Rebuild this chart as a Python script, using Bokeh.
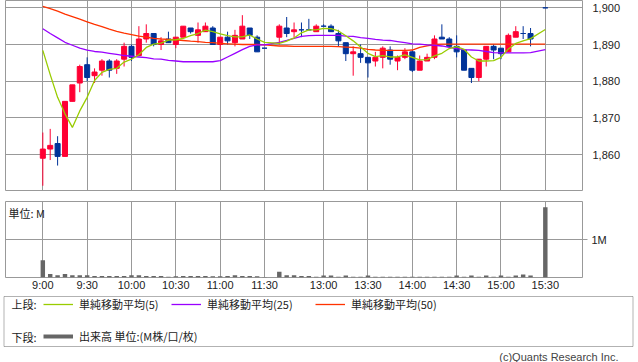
from bokeh.plotting import figure
from bokeh.layouts import column
from bokeh.models import (ColumnDataSource, Range1d, FixedTicker, NumeralTickFormatter,
                          Label, Legend, LegendItem, BoxAnnotation)
from bokeh.core.properties import value
from bokeh.embed import file_html
from bokeh.resources import INLINE

# ---- data (5-minute bars; slot 31 = lunch break, slot 67 = no trade) ----
slots = list(range(0, 31)) + list(range(32, 67)) + [68]

opens = [1859, 1861.5, 1863, 1859.5, 1874.5, 1879.5, 1884.5, 1881.5, 1883, 1885.5,
         1883.5, 1886, 1889.5, 1887, 1891.5, 1893, 1890, 1891.5, 1890, 1892,
         1894.5, 1892.5, 1893.5, 1894.5, 1890, 1892, 1890.5, 1891.5, 1894.5, 1892,
         1889,
         1892, 1894.5, 1893.5, 1894, 1894, 1893.5, 1895, 1895, 1893, 1890.5,
         1887.5, 1887.5, 1886.5, 1885.5, 1886.5, 1888.5, 1885.5, 1886.5, 1888, 1883,
         1885.5, 1886.5, 1892, 1891.5, 1889.5, 1888.5, 1883.5, 1881, 1886, 1889.5,
         1889, 1888, 1892, 1893, 1893,
         1900]
highs = [1866, 1867, 1865, 1874.5, 1879, 1884.5, 1886.5, 1883.5, 1886, 1886,
         1886, 1890.5, 1890, 1895, 1895.5, 1893, 1892, 1893.5, 1892, 1895,
         1894.5, 1896, 1896, 1895, 1892, 1893.5, 1894, 1898, 1894.5, 1892.5,
         1889,
         1895.5, 1897.5, 1896, 1896, 1897, 1895.5, 1895.5, 1895.5, 1894, 1890.5,
         1889.5, 1890, 1886.5, 1888, 1889.5, 1889.5, 1887, 1889, 1888.5, 1887,
         1887.5, 1892.5, 1895.5, 1892, 1892.5, 1888.5, 1883.5, 1886, 1889.5, 1890,
         1889, 1893, 1895, 1895, 1894.5,
         1900]
lows = [1851.5, 1858.5, 1857, 1859.5, 1874.5, 1877, 1880, 1879.5, 1881.5, 1881,
        1882, 1884, 1885.5, 1887, 1890.5, 1889.5, 1888.5, 1890.5, 1889, 1892,
        1893, 1890.5, 1893.5, 1890, 1888.5, 1890, 1889.5, 1891.5, 1891.5, 1888,
        1889,
        1890, 1892, 1892, 1892, 1894, 1893.5, 1895, 1893.5, 1889.5, 1885.5,
        1881.5, 1885, 1881, 1884, 1883.5, 1884.5, 1883, 1886, 1882.5, 1883,
        1885.5, 1886, 1891.5, 1889.5, 1886.5, 1883, 1879.5, 1880, 1884, 1886,
        1886, 1888, 1892, 1891.5, 1889.5,
        1900]
closes = [1861.5, 1862.5, 1859.5, 1874.5, 1879, 1884, 1881, 1882.5, 1885.5, 1883,
          1885.5, 1889.5, 1886.5, 1891.5, 1893, 1890, 1891, 1890.5, 1892, 1895,
          1893.5, 1894, 1895, 1890, 1892, 1891, 1892.5, 1895, 1892.5, 1888,
          1889,
          1895, 1893, 1894, 1894, 1894, 1895, 1895, 1893.5, 1891, 1887.5,
          1888, 1886.5, 1885, 1886.5, 1889, 1886, 1886.5, 1888, 1883, 1885.5,
          1886.5, 1891.5, 1891.5, 1889.5, 1888, 1883, 1881, 1886, 1889.5, 1888.5,
          1887.5, 1892.5, 1893.5, 1893, 1891.5,
          1900]
sma5 = [1888.4, 1881.8, 1875.6, 1871.1, 1867.4, 1871.9, 1875.6, 1880.2, 1882.4, 1883.2,
        1883.5, 1885.2, 1886.0, 1887.2, 1889.2, 1890.1, 1890.4, 1891.2, 1891.3, 1891.7,
        1892.4, 1893.0, 1893.9, 1893.5, 1892.9, 1892.4, 1892.1, 1892.1, 1892.6, 1891.5,
        1890.6,
        1890.3, 1890.9, 1891.8, 1893.2, 1894.0, 1894.0, 1894.4, 1894.3, 1893.7, 1892.4,
        1891.0, 1889.3, 1887.6, 1886.7, 1887.0, 1886.6, 1886.6, 1887.2, 1886.5, 1885.8,
        1885.9, 1886.9, 1887.6, 1888.9, 1889.4, 1888.7, 1886.6, 1885.5, 1885.5, 1885.6,
        1886.5, 1888.8, 1890.3, 1891.0, 1891.6,
        1894.1]
sma25 = [1894.3, 1893.0, 1891.8, 1890.6, 1889.8, 1889.0, 1888.5, 1888.1, 1887.9, 1887.6,
         1887.3, 1887.0, 1886.8, 1886.6, 1886.4, 1886.1, 1886.0, 1885.7, 1885.5, 1885.3,
         1885.3, 1885.3, 1885.3, 1885.3, 1885.6, 1886.6, 1887.6, 1888.6, 1889.5, 1889.9,
         1889.9,
         1890.6, 1891.1, 1891.7, 1892.2, 1892.4, 1892.5, 1892.5, 1892.5, 1892.5, 1892.3,
         1892.2, 1891.9, 1891.7, 1891.4, 1891.2, 1891.1, 1890.8, 1890.5, 1890.2, 1890.1,
         1889.9, 1889.8, 1889.6, 1889.2, 1888.9, 1888.6, 1888.5, 1888.4, 1888.1, 1887.8,
         1887.7, 1887.7, 1887.7, 1887.7, 1887.8,
         1888.6]
sma50 = [1900.4, 1899.8, 1899.1, 1898.3, 1897.6, 1896.9, 1896.2, 1895.5, 1894.9, 1894.2,
         1893.6, 1893.1, 1892.7, 1892.3, 1892.0, 1891.7, 1891.5, 1891.4, 1891.3, 1891.1,
         1890.9, 1890.8, 1890.6, 1890.5, 1890.3, 1890.2, 1890.1, 1890.0, 1890.0, 1890.0,
         1889.9,
         1889.6, 1889.6, 1889.5, 1889.5, 1889.5, 1889.5, 1889.5, 1889.5, 1889.4, 1889.3,
         1889.2, 1889.0, 1888.7, 1888.5, 1888.4, 1888.4, 1888.4, 1888.4, 1888.5, 1889.2,
         1889.6, 1890.0, 1890.1, 1890.1, 1890.1, 1890.1, 1890.1, 1890.1, 1890.1, 1890.1,
         1890.1, 1890.1, 1890.1, 1890.1, 1890.1,
         1890.1]
volume_m = [0.46, 0.09, 0.06, 0.09, 0.06, 0.06, 0.06, 0.04, 0.04, 0.04,
            0.04, 0.04, 0.06, 0.06, 0.04, 0.04, 0.04, 0.02, 0.03, 0.04,
            0.04, 0.04, 0.04, 0.03, 0.03, 0.04, 0.06, 0.04, 0.04, 0.03,
            0.01,
            0.15, 0.06, 0.06, 0.04, 0.04, 0.02, 0.05, 0.05, 0.02, 0.05,
            0.02, 0.02, 0.05, 0.02, 0.02, 0.02, 0.02, 0.02, 0.02, 0.02,
            0.02, 0.02, 0.02, 0.02, 0.05, 0.02, 0.05, 0.02, 0.05, 0.02,
            0.05, 0.02, 0.05, 0.08, 0.05,
            1.87]

tick_slots = [0, 6, 12, 18, 24, 30, 38, 44, 50, 56, 62, 68]
tick_labels = ["9:00", "9:30", "10:00", "10:30", "11:00", "11:30",
               "13:00", "13:30", "14:00", "14:30", "15:00", "15:30"]
price_ticks = [1860, 1870, 1880, 1890, 1900]
legend_upper = ["単純移動平均(5)", "単純移動平均(25)", "単純移動平均(50)"]
legend_lower = "出来高 単位:(M株/口/枚)"

# ---- styles ----
RED = "#ff0033"
BLUE = "#003399"
GRID = "#999999"
TXT = "#222222"
C5, C25, C50 = "#99cc00", "#9900ff", "#ff3300"
VOLC = "#666666"
NUMFONT = "Liberation Sans"
JPFONT = "Noto Sans CJK JP"
W = 638
FL, FR = 5, 582          # frame left/right (page px)
BL, BR = FL, W - FR      # min borders

colors = [RED if c > o else BLUE for o, c in zip(opens, closes)]
src = ColumnDataSource(dict(
    x=slots, open=opens, high=highs, low=lows, close=closes,
    top=[max(o, c) for o, c in zip(opens, closes)],
    bottom=[min(o, c) for o, c in zip(opens, closes)],
    color=colors, sma5=sma5, sma25=sma25, sma50=sma50, vol=volume_m))

xr = Range1d(-5.05, 73.03)

# ---- upper panel: candles + moving averages ----
p1 = figure(width=W, height=201, x_range=xr, y_range=Range1d(1850.2, 1902.0),
            x_axis_location=None, y_axis_location="right",
            toolbar_location=None, output_backend="svg",
            min_border_left=BL, min_border_right=BR, min_border_top=0, min_border_bottom=11,
            outline_line_color=GRID)
p1.segment(x0="x", y0="low", x1="x", y1="high", source=src, line_color="color", line_width=1)
p1.vbar(x="x", width=0.68, top="top", bottom="bottom", source=src,
        fill_color="color", line_color="color", line_width=1)
p1.line(x="x", y="sma50", source=src, line_color=C50, line_width=1.3)
p1.line(x="x", y="sma25", source=src, line_color=C25, line_width=1.3)
p1.line(x="x", y="sma5", source=src, line_color=C5, line_width=1.3)

p1.yaxis.ticker = FixedTicker(ticks=price_ticks)
p1.yaxis.formatter = NumeralTickFormatter(format="0,0")
p1.yaxis.major_tick_out = 0
p1.yaxis.major_tick_in = 0
p1.yaxis.minor_tick_out = 0
p1.yaxis.minor_tick_in = 0
p1.yaxis.axis_line_color = None
p1.yaxis.major_label_standoff = 10
p1.yaxis.major_label_text_font = NUMFONT
p1.yaxis.major_label_text_font_size = "11px"
p1.yaxis.major_label_text_color = TXT
p1.xgrid.ticker = FixedTicker(ticks=tick_slots)
p1.ygrid.ticker = FixedTicker(ticks=price_ticks)
p1.grid.grid_line_color = GRID
p1.grid.grid_line_width = 1

# ---- lower panel: volume ----
p2 = figure(width=W, height=92, x_range=xr, y_range=Range1d(0, 2.026),
            y_axis_location="right", toolbar_location=None, output_backend="svg",
            min_border_left=BL, min_border_right=BR, min_border_top=0, min_border_bottom=13,
            outline_line_color=GRID)
p2.vbar(x="x", width=0.6, top="vol", bottom=0, source=src, fill_color=VOLC, line_color=None)
p2.xaxis.ticker = FixedTicker(ticks=tick_slots)
p2.xaxis.major_label_overrides = {s: l for s, l in zip(tick_slots, tick_labels)}
p2.xaxis.major_tick_out = 0
p2.xaxis.major_tick_in = 0
p2.xaxis.minor_tick_out = 0
p2.xaxis.minor_tick_in = 0
p2.xaxis.axis_line_color = None
p2.xaxis.major_label_standoff = 1
p2.xaxis.major_label_text_font = NUMFONT
p2.xaxis.major_label_text_font_size = "11px"
p2.xaxis.major_label_text_color = TXT
p2.yaxis.ticker = FixedTicker(ticks=[1])
p2.yaxis.major_label_overrides = {1: "1M"}
p2.yaxis.major_tick_out = 5
p2.yaxis.major_tick_in = 0
p2.yaxis.minor_tick_out = 0
p2.yaxis.minor_tick_in = 0
p2.yaxis.major_tick_line_color = GRID
p2.yaxis.axis_line_color = None
p2.yaxis.major_label_standoff = 4
p2.yaxis.major_label_text_font = NUMFONT
p2.yaxis.major_label_text_font_size = "11px"
p2.yaxis.major_label_text_color = TXT
p2.xgrid.ticker = FixedTicker(ticks=tick_slots)
p2.ygrid.ticker = FixedTicker(ticks=[1])
p2.grid.grid_line_color = GRID
p2.add_layout(Label(x=xr.start, y=2.026, x_offset=3, y_offset=-3, text="単位: M",
                    text_baseline="top", text_font=JPFONT, text_font_size="11px",
                    text_color=TXT))

# ---- legend / footer panel (its own root; data units = page pixels) ----
H3 = 69
p3 = figure(width=W, height=H3, x_range=Range1d(0, W), y_range=Range1d(0, H3),
            x_axis_location=None, y_axis_location=None, toolbar_location=None,
            output_backend="svg", min_border=0, outline_line_color=None)
p3.grid.visible = False
p3.add_layout(BoxAnnotation(left=3.5, right=632.5, bottom=16, top=66,
                            fill_color=None, line_color="black", line_width=1))
nan = float("nan")
r5 = p3.line(x=[nan], y=[nan], line_color=C5, line_width=1.3)
r25 = p3.line(x=[nan], y=[nan], line_color=C25, line_width=1.3)
r50 = p3.line(x=[nan], y=[nan], line_color=C50, line_width=1.3)
rv = p3.line(x=[nan], y=[nan], line_color=VOLC, line_width=4)

leg_kw = dict(orientation="horizontal", glyph_width=30, glyph_height=12, label_height=12,
              label_standoff=6, spacing=0, padding=0, margin=0,
              border_line_color=None, background_fill_alpha=0,
              label_text_font=JPFONT, label_text_font_size="11px", label_text_color=TXT)
for t, r, gx in zip(legend_upper, [r5, r25, r50], [43, 171, 315]):
    p3.add_layout(Legend(items=[LegendItem(label=value(t), renderers=[r])],
                         location=(gx, 50), **leg_kw))
p3.add_layout(Legend(items=[LegendItem(label=value(legend_lower), renderers=[rv])],
                     location=(43, 18), **leg_kw))
for txt, yy in (("上段:", 58.3), ("下段:", 26)):
    p3.add_layout(Label(x=11, y=yy, text=txt, text_baseline="middle", text_font=JPFONT,
                        text_font_size="11px", text_color=TXT))
p3.add_layout(Label(x=618, y=5.5, text="(c)Quants Research Inc.", text_align="right",
                    text_baseline="middle", text_font=NUMFONT, text_font_size="11px",
                    text_color="#444444"))

top = column(p1, p2, spacing=0)
open("out.html", "w").write(file_html([top, p3], INLINE))
